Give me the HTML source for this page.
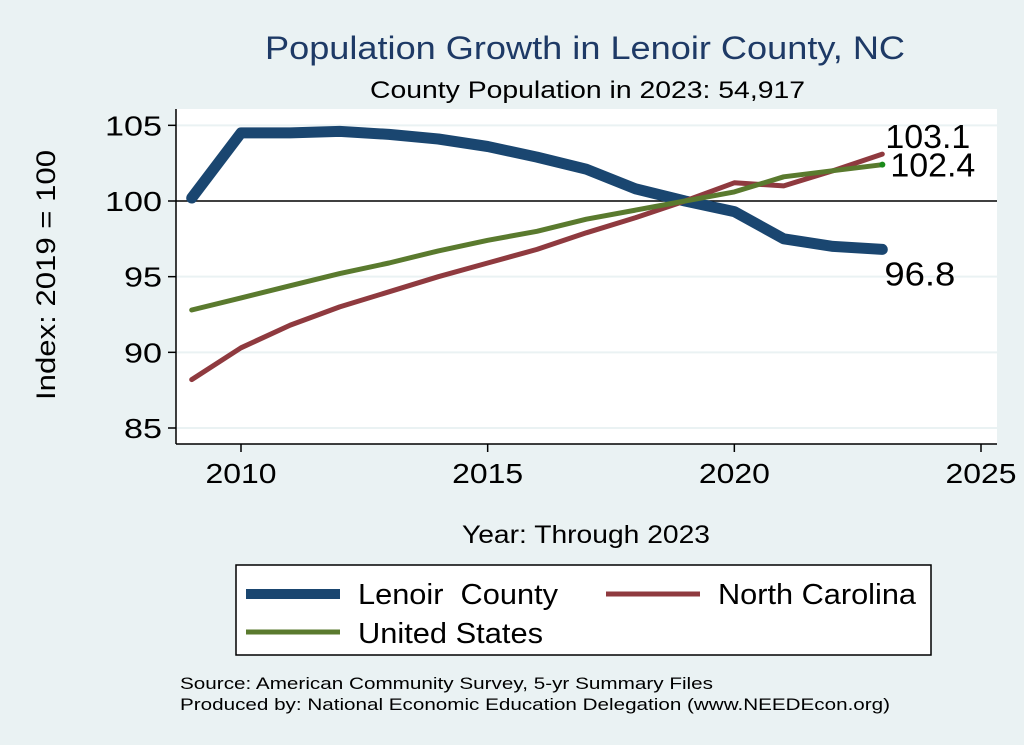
<!DOCTYPE html>
<html><head><meta charset="utf-8"><style>
body{margin:0;background:#eaf2f3;}
svg{display:block;font-family:"Liberation Sans",Arial,sans-serif;}
</style></head><body>
<svg id="chart" width="1024" height="745" viewBox="0 0 1024 745">
<rect x="0" y="0" width="1024" height="745" fill="#eaf2f3"/>
<text x="265" y="59" font-size="32" fill="#1e3a66" textLength="640" lengthAdjust="spacingAndGlyphs">Population Growth in Lenoir County, NC</text>
<text x="370" y="98" font-size="24" fill="#000" textLength="435" lengthAdjust="spacingAndGlyphs">County Population in 2023: 54,917</text>
<rect x="176" y="109" width="821" height="335" fill="#fff"/>
<g id="grid"></g>
<g id="axes"></g>
<g id="series"></g>
<g id="labels"></g>
<text x="55" y="275" font-size="27" text-anchor="middle" textLength="250" lengthAdjust="spacingAndGlyphs" transform="rotate(-90 55 275)">Index: 2019 = 100</text>
<text x="462" y="543" font-size="25" textLength="248" lengthAdjust="spacingAndGlyphs">Year: Through 2023</text>
<g>
<rect x="236" y="565" width="695" height="90" fill="#fff" stroke="#000" stroke-width="1.5"/>
<line x1="246" y1="594" x2="340" y2="594" stroke="#1a4670" stroke-width="10"/>
<text x="358" y="604" font-size="29" textLength="200" lengthAdjust="spacingAndGlyphs" xml:space="preserve">Lenoir  County</text>
<line x1="606" y1="594" x2="700" y2="594" stroke="#8f3a3f" stroke-width="5"/>
<text x="718" y="604" font-size="29" textLength="198" lengthAdjust="spacingAndGlyphs">North Carolina</text>
<line x1="246" y1="632" x2="340" y2="632" stroke="#5a7a2e" stroke-width="5"/>
<text x="358" y="643" font-size="29" textLength="185" lengthAdjust="spacingAndGlyphs">United States</text>
</g>
<text x="180" y="689" font-size="17" textLength="533" lengthAdjust="spacingAndGlyphs">Source: American Community Survey, 5-yr Summary Files</text>
<text x="180" y="710" font-size="17" textLength="710" lengthAdjust="spacingAndGlyphs">Produced by: National Economic Education Delegation (www.NEEDEcon.org)</text>
</svg>
<script>
const years=[2009,2010,2011,2012,2013,2014,2015,2016,2017,2018,2019,2020,2021,2022,2023];
const lenoir=[100.2,104.5,104.5,104.6,104.4,104.1,103.6,102.9,102.1,100.8,100,99.3,97.5,97.0,96.8];
const northCarolina=[88.2,90.3,91.8,93.0,94.0,95.0,95.9,96.8,97.9,98.9,100,101.2,101.0,102.0,103.1];
const unitedStates=[92.8,93.6,94.4,95.2,95.9,96.7,97.4,98.0,98.8,99.4,100,100.6,101.6,102.0,102.4];
const yTicks=[85,90,95,100,105];
const xTicks=[2010,2015,2020,2025];
const NS="http://www.w3.org/2000/svg";
function X(v){return 241+(v-2010)*(981-241)/15;}
function Y(v){return 201-(v-100)*(428-201)/15;}
function mk(tag,attrs,parent){const e=document.createElementNS(NS,tag);for(const k in attrs)e.setAttribute(k,attrs[k]);document.getElementById(parent).appendChild(e);return e;}
yTicks.forEach(t=>{
  if(t!==100){const g=mk('line',{x1:176,x2:997,y1:Y(t),y2:Y(t),stroke:'#eaf2f3','stroke-width':2},'grid');
  
  }
  const tk=mk('line',{x1:168,x2:176,y1:Y(t),y2:Y(t),stroke:'#000','stroke-width':1.5},'axes');
  
  
  const s=String(t);
  const tx=mk('text',{x:162,y:Y(t)+10,'font-size':28,'text-anchor':'end',textLength:s.length*19,lengthAdjust:'spacingAndGlyphs'},'axes');tx.textContent=s;
  
  
});
const ref=mk('line',{x1:176,x2:997,y1:Y(100),y2:Y(100),stroke:'#000','stroke-width':1.5},'grid');


xTicks.forEach(t=>{
  const tk=mk('line',{x1:X(t),x2:X(t),y1:444,y2:452,stroke:'#000','stroke-width':1.5},'axes');
  
  
  const tx=mk('text',{x:X(t),y:483,'font-size':28,'text-anchor':'middle',textLength:71,lengthAdjust:'spacingAndGlyphs'},'axes');tx.textContent=t;
  
  
});
const ya=mk('line',{x1:176,x2:176,y1:109,y2:444,stroke:'#000','stroke-width':1.5},'axes');


const xa=mk('line',{x1:176,x2:997,y1:444,y2:444,stroke:'#000','stroke-width':1.5},'axes');


function line(vals,color,w,name){
  const d=vals.map((v,i)=>(i?'L':'M')+X(years[i]).toFixed(1)+' '+Y(v).toFixed(1)).join(' ');
  const p=mk('path',{d:d,fill:'none',stroke:color,'stroke-width':w,'stroke-linejoin':'round','stroke-linecap':'round'},'series');
  
  
}
line(lenoir,'#1a4670',11,'line-lenoir-county');
line(northCarolina,'#8f3a3f',5,'line-north-carolina');
line(unitedStates,'#5a7a2e',5,'line-united-states');
const n=years.length-1;
const dot=mk('circle',{cx:X(years[n]),cy:Y(unitedStates[n]),r:3,fill:'#1a8a1a'},'series');


function lab(txt,x,y,name,w){const t=mk('text',{x:x,y:y,'font-size':33,textLength:w,lengthAdjust:'spacingAndGlyphs'},'labels');t.textContent=txt;

}
lab(northCarolina[n].toFixed(1),X(years[n])+3,Y(northCarolina[n])-6,'label-nc-end',85);
lab(unitedStates[n].toFixed(1),X(years[n])+8,Y(unitedStates[n])+12,'label-us-end',85);
lab(lenoir[n].toFixed(1),X(years[n])+2,Y(lenoir[n])+36,'label-lenoir-end',71);
</script>
</body></html>
